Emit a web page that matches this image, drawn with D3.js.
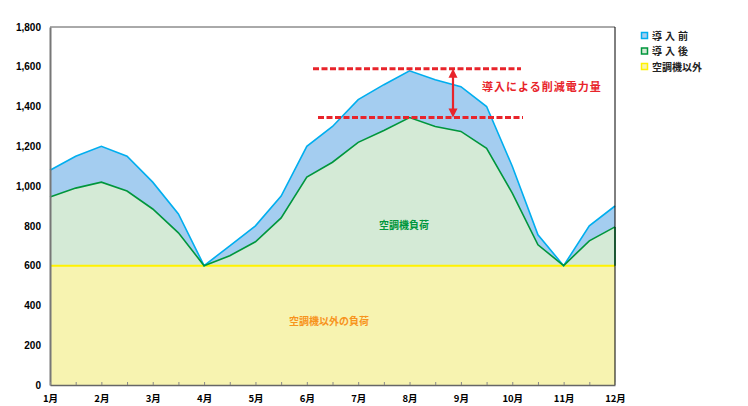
<!DOCTYPE html>
<html><head><meta charset="utf-8">
<script src="https://cdn.jsdelivr.net/npm/d3@7"></script>
<style>body{margin:0;background:#fff;}svg{display:block;}</style>
</head><body>
<svg id="c" width="748" height="406"></svg>
<script>
// x positions in months (half-month steps)
const xPoints = [1,1.5,2,2.5,3,3.5,4,4.5,5,5.5,6,6.5,7,7.5,8,8.5,9,9.5,10,10.5,11,11.5,12];
const before  = [1080,1150,1200,1150,1020,860,600,700,800,950,1200,1300,1435,1510,1580,1535,1500,1400,1100,755,600,800,900];
const after   = [945,990,1020,975,885,765,600,650,720,840,1045,1120,1220,1280,1345,1300,1275,1190,965,705,600,725,795];
const baseLoad = 600;
const monthLabels = ["1月","2月","3月","4月","5月","6月","7月","8月","9月","10月","11月","12月"];
const yTicks = [0,200,400,600,800,1000,1200,1400,1600,1800];
const legendItems = [
  {label:"導入前", fill:"#a4cdf0", stroke:"#00aeef", spacing:3},
  {label:"導入後", fill:"#d4ead6", stroke:"#00963c", spacing:3},
  {label:"空調機以外", fill:"#f7f3b0", stroke:"#fff200", spacing:0}
];
const reductionTop = 1590, reductionBottom = 1345;

const svg = d3.select("#c");
const L=50, R=615, T=27, B=385;
const x = d3.scaleLinear().domain([1,12]).range([L,R]);
const y = d3.scaleLinear().domain([0,1800]).range([B,T]);
const numFont = "'Liberation Sans', Arial, sans-serif";
const jpFont = "'Noto Sans CJK JP', sans-serif";

const data = xPoints.map((m,i)=>({m, b:before[i], a:after[i]}));

// yellow base area
svg.append("rect").attr("x",x(1)).attr("y",y(baseLoad)).attr("width",x(12)-x(1)).attr("height",y(0)-y(baseLoad)).attr("fill","#f7f3b0");
// green area
svg.append("path").datum(data).attr("fill","#d4ead6")
  .attr("d", d3.area().x(d=>x(d.m)).y0(y(baseLoad)).y1(d=>y(d.a)));
// blue area
svg.append("path").datum(data).attr("fill","#a4cdf0")
  .attr("d", d3.area().x(d=>x(d.m)).y0(d=>y(d.a)).y1(d=>y(d.b)));
// lines
svg.append("line").attr("x1",x(1)).attr("x2",x(12)).attr("y1",y(baseLoad)).attr("y2",y(baseLoad)).attr("stroke","#fff200").attr("stroke-width",2);
svg.append("path").datum(data).attr("fill","none").attr("stroke","#00aeef").attr("stroke-width",1.6)
  .attr("d", d3.line().x(d=>x(d.m)).y(d=>y(d.b)));
svg.append("path").datum(data).attr("fill","none").attr("stroke","#00963c").attr("stroke-width",1.6)
  .attr("d", d3.line().x(d=>x(d.m)).y(d=>y(d.a)));
// green right edge
svg.append("line").attr("x1",x(12)).attr("x2",x(12)).attr("y1",y(baseLoad)).attr("y2",y(after[after.length-1])).attr("stroke","#00963c").attr("stroke-width",1.5);

// frame
svg.append("line").attr("x1",L).attr("x2",R).attr("y1",T).attr("y2",T).attr("stroke","#555").attr("stroke-width",1);
svg.append("line").attr("x1",R).attr("x2",R).attr("y1",T).attr("y2",B).attr("stroke","#000").attr("stroke-width",1);

// y axis
const ya = svg.append("g").attr("transform",`translate(${L},0)`)
  .call(d3.axisLeft(y).tickValues(yTicks).tickSize(0).tickPadding(9).tickFormat(d3.format(",")));
ya.select(".domain").attr("stroke","#777").attr("stroke-width",2);
ya.selectAll("text").attr("font-family",numFont).attr("font-weight","bold").attr("font-size",10).attr("fill","#000");

// x axis
const xa = svg.append("g").attr("transform",`translate(0,${B})`)
  .call(d3.axisBottom(x).tickValues(xPoints).tickSize(-3).tickSizeOuter(0).tickPadding(10)
    .tickFormat(d=> Number.isInteger(d) ? monthLabels[d-1] : ""));
xa.select(".domain").attr("stroke","#666").attr("stroke-width",1.5);
xa.selectAll(".tick line").attr("stroke","#888");
xa.selectAll("text").attr("font-family",jpFont).attr("font-weight","bold").attr("font-size",9.5).attr("fill","#000");

// reduction annotation
svg.append("line").attr("x1",313).attr("x2",521).attr("y1",y(reductionTop)).attr("y2",y(reductionTop))
  .attr("stroke","#e8242b").attr("stroke-width",3).attr("stroke-dasharray","6,2.5");
svg.append("line").attr("x1",318).attr("x2",523).attr("y1",y(reductionBottom)).attr("y2",y(reductionBottom))
  .attr("stroke","#e8242b").attr("stroke-width",3).attr("stroke-dasharray","6,2.5");
const ax = 453;
svg.append("line").attr("x1",ax).attr("x2",ax).attr("y1",y(reductionTop)+5).attr("y2",y(reductionBottom)-5).attr("stroke","#e8242b").attr("stroke-width",2.2);
svg.append("path").attr("d",`M${ax},${y(reductionTop)} l-4.5,9 l9,0 z`).attr("fill","#e8242b");
svg.append("path").attr("d",`M${ax},${y(reductionBottom)} l-4.5,-9 l9,0 z`).attr("fill","#e8242b");
svg.append("text").attr("x",482).attr("y",91).text("導入による削減電力量")
  .attr("font-family",jpFont).attr("font-weight","bold").attr("font-size",11).attr("letter-spacing",1)
  .attr("fill","#e8242b");

// area labels
svg.append("text").attr("x",404).attr("y",229).attr("text-anchor","middle").text("空調機負荷")
  .attr("font-family",jpFont).attr("font-weight","bold").attr("font-size",10).attr("fill","#00963c");
svg.append("text").attr("x",329).attr("y",325).attr("text-anchor","middle").text("空調機以外の負荷")
  .attr("font-family",jpFont).attr("font-weight","bold").attr("font-size",10).attr("fill","#f7941d");

// legend
const lg = svg.append("g").attr("transform","translate(641,32)");
legendItems.forEach((it,i)=>{
  const g = lg.append("g").attr("transform",`translate(0,${i*15.5})`);
  g.append("rect").attr("x",0.5).attr("y",0.5).attr("width",6).attr("height",6).attr("fill",it.fill).attr("stroke",it.stroke).attr("stroke-width",1.5);
  g.append("text").attr("x",11).attr("y",7.5).text(it.label).attr("letter-spacing",it.spacing)
    .attr("font-family",jpFont).attr("font-weight","bold").attr("font-size",10).attr("fill","#222");
});
</script>
</body></html>
